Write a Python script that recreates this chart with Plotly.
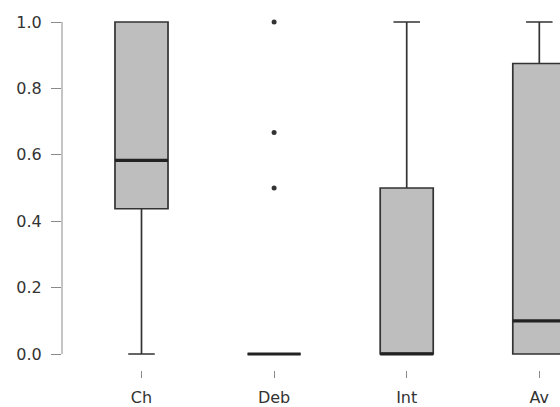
import plotly.graph_objects as go

categories = ["Ch", "Deb", "Int", "Av"]
positions = [1, 2, 3, 4]
q1 = [0.4375, 0.0, 0.0, 0.0]
median = [0.583, 0.0, 0.0, 0.1]
q3 = [1.0, 0.0, 0.5, 0.875]
lowerfence = [0.0, 0.0, 0.0, 0.0]
upperfence = [1.0, 0.0, 1.0, 1.0]
outlier_x = ["Deb", "Deb", "Deb"]
outlier_y = [1.0, 0.667, 0.5]
y_ticks = [0.0, 0.2, 0.4, 0.6, 0.8, 1.0]

BOX_W = 0.4
pos_of = dict(zip(categories, positions))

fig = go.Figure()
fig.add_trace(go.Box(
    x=positions, q1=q1, median=median, q3=q3,
    lowerfence=lowerfence, upperfence=upperfence,
    fillcolor="#BEBEBE", line=dict(color="#333333", width=1.7),
    width=BOX_W, whiskerwidth=0.5, boxpoints=False,
    showlegend=False, hoverinfo="skip",
))

# thicker median bars
mx, my = [], []
for p, m in zip(positions, median):
    mx += [p - BOX_W / 2, p + BOX_W / 2, None]
    my += [m, m, None]
fig.add_trace(go.Scatter(x=mx, y=my, mode="lines",
                         line=dict(color="#222222", width=3.2),
                         showlegend=False, hoverinfo="skip"))

fig.add_trace(go.Scatter(x=[pos_of[c] for c in outlier_x], y=outlier_y,
                         mode="markers",
                         marker=dict(color="#333333", size=5),
                         showlegend=False, hoverinfo="skip"))

# R-style y axis line spanning only the tick range
fig.add_shape(type="line", xref="paper", yref="y", x0=0, x1=0,
              y0=min(y_ticks), y1=max(y_ticks),
              line=dict(color="#8a8a8a", width=1))

fig.update_layout(
    width=560, height=407,
    margin=dict(l=62, r=0, t=8, b=37),
    paper_bgcolor="white", plot_bgcolor="white",
    font=dict(family="DejaVu Sans, Arial, sans-serif", size=16, color="#333333"),
    xaxis=dict(range=[0.4005, 4.156], tickvals=positions, ticktext=categories,
               ticks="outside", ticklen=7, tickcolor="#8a8a8a", tickwidth=1,
               showline=False, showgrid=False, zeroline=False,
               ticklabelstandoff=6),
    yaxis=dict(range=[-0.0482, 1.0422], tickvals=y_ticks,
               ticktext=[f"{v:.1f}" for v in y_ticks],
               ticks="outside", ticklen=10, tickcolor="#8a8a8a", tickwidth=1,
               showline=False, showgrid=False, zeroline=False,
               ticklabelstandoff=6),
)

fig.write_html("out.html", config={"displayModeBar": False},
               post_script="document.body.style.margin='0';document.body.style.overflow='hidden';")
